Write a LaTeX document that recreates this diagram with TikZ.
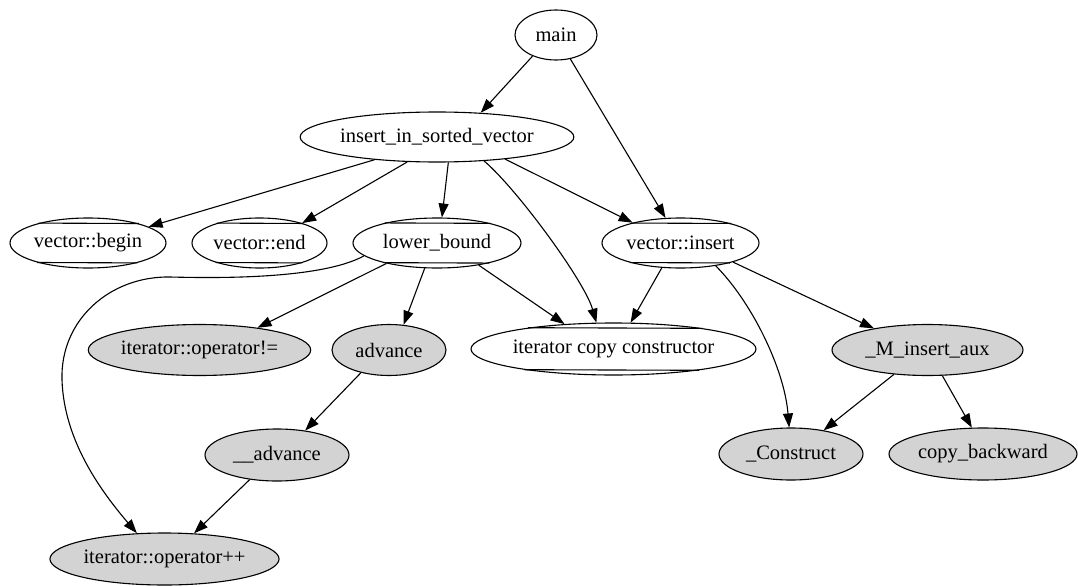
\documentclass[tikz,border=0pt]{standalone}
\usepackage{fontspec}
\setmainfont{Liberation Serif}
\usetikzlibrary{shapes.geometric,arrows.meta}
\definecolor{gvgray}{HTML}{D3D3D3}
\tikzset{
  fn/.style={ellipse, draw, line width=1.1pt, inner sep=0pt, font=\fontsize{20.5}{24}\selectfont},
  lib/.style={fn},
  ext/.style={fn, fill=gvgray},
  chord/.style={line width=1.1pt},
  edge/.style={draw, line width=1.1pt, -{Triangle[length=14pt,width=10pt]}}
}
\begin{document}
\begin{tikzpicture}[x=1pt,y=-1pt]
\useasboundingbox (0,0) rectangle (1078,586);
% row 1
\node[fn, minimum width=82pt, minimum height=50pt] (main) at (556,35) {main};
% row 2
\node[fn, minimum width=272pt, minimum height=50pt] (isv) at (437,137) {insert\_in\_sorted\_vector};
% row 3
\node[lib, minimum width=156pt, minimum height=50pt] (vb) at (88,243) {vector::begin};
\node[lib, minimum width=135pt, minimum height=50pt] (ve) at (259.5,243) {vector::end};
\node[lib, minimum width=168pt, minimum height=50pt] (lb) at (437,243) {lower\_bound};
\node[lib, minimum width=157pt, minimum height=50pt] (vi) at (680.5,243) {vector::insert};
% row 4
\node[ext, minimum width=211pt, minimum height=51pt] (neq) at (199.5,350) {iterator::operator!=};
\node[ext, minimum width=114pt, minimum height=51pt] (adv) at (389,350) {advance};
\node[lib, minimum width=283pt, minimum height=52pt] (icc) at (613.5,349) {iterator copy constructor};
\node[ext, minimum width=191pt, minimum height=51pt] (mia) at (927.5,350) {\_M\_insert\_aux};
% row 5
\node[ext, minimum width=144pt, minimum height=52pt] (adv2) at (277,455) {\_\_advance};
\node[ext, minimum width=144pt, minimum height=52pt] (con) at (791,454) {\_Construct};
\node[ext, minimum width=188pt, minimum height=52pt] (cb) at (983,454) {copy\_backward};
% row 6
\node[ext, minimum width=223pt, minimum height=52pt] (pp) at (164.5,559) {iterator::operator++};
% chords of the library-function ellipses
\foreach \n/\a in {vb/21.8, ve/24.8, lb/20.3, vi/21.7, icc/13.3}{
  \pgfmathsetmacro\b{180-\a}
  \pgfmathsetmacro\c{180+\a}
  \pgfmathsetmacro\d{360-\a}
  \draw[chord] (\n.\a) -- (\n.\b) (\n.\d) -- (\n.\c);
}
% edges
\draw[edge] (main.222) -- (isv.29);
\draw[edge] (main) -- (vi);
\draw[edge] (isv.200) -- (vb.15);
\draw[edge] (isv.220) -- (ve.25);
\draw[edge] (isv.294) -- (lb.79);
\draw[edge] (isv.333) .. controls +(32,27) and +(-12,-42) .. (icc.123);
\draw[edge] (isv.342) -- (vi.157);
\draw[edge] (lb.190) .. controls (320,280) and (210,278) .. (170,277)
  .. controls (110,276) and (60,320) .. (62,380)
  .. controls (64,440) and (100,490) .. (pp.137);
\draw[edge] (lb.202) -- (neq.21);
\draw[edge] (lb.244) -- (adv.60);
\draw[edge] (lb.332) -- (icc.153);
\draw[edge] (vi.233) -- (icc.57);
\draw[edge] (vi.327) .. controls +(35,35) and +(-5,-60) .. (con.94);
\draw[edge] (vi.340) -- (mia.158);
\draw[edge] (adv.219) -- (adv2.41);
\draw[edge] (adv2.222) -- (pp.41);
\draw[edge] (mia.216) -- (con.36);
\draw[edge] (mia.300) -- (cb.113);
\end{tikzpicture}
\end{document}
